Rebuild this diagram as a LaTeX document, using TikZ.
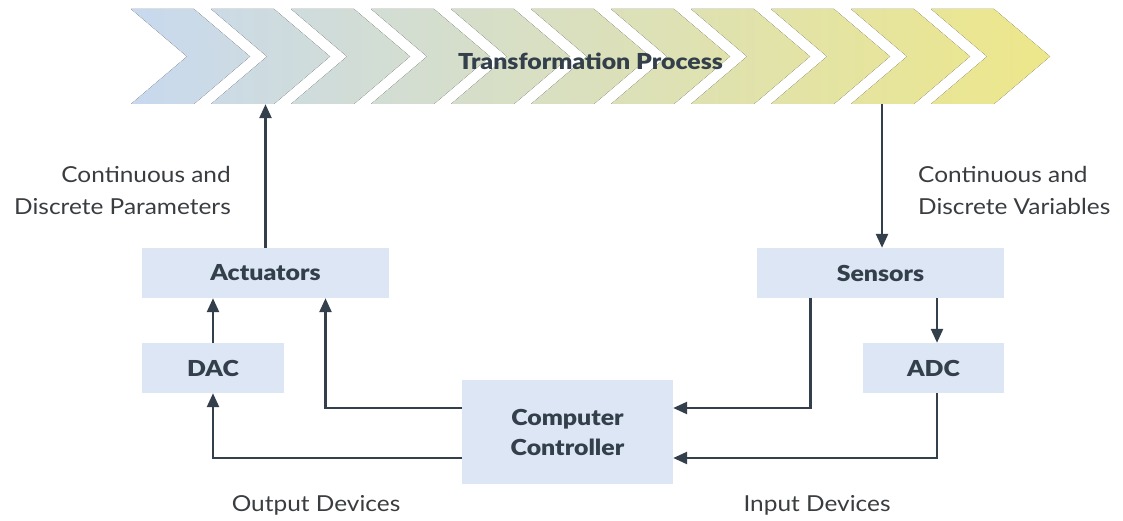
\documentclass[tikz,border=0pt]{standalone}
\usepackage{fontspec}
\setmainfont{Lato}[FakeStretch=1.11, BoldFont={Lato Black}, BoldFeatures={FakeStretch=1.13}]
\usetikzlibrary{arrows.meta}
\definecolor{boxfill}{HTML}{DCE6F5}
\definecolor{ink}{HTML}{333F4A}
\definecolor{labelc}{HTML}{3A3D40}
\definecolor{chevL}{HTML}{C8D9EF}
\definecolor{chevR}{HTML}{EDE78A}
\begin{document}
\begin{tikzpicture}[x=1pt,y=-1pt,
  box/.style={fill=boxfill, inner sep=0pt, text=ink, font=\bfseries\fontsize{22}{30}\selectfont, align=center},
  arr/.style={draw=ink, line width=2.5pt, -{Triangle[length=14pt,width=12pt]}},
  lbl/.style={text=labelc, font=\fontsize{22}{32}\selectfont, inner sep=0pt}]
\useasboundingbox (0,0) rectangle (1123,521);
% chevron band
\fill[left color=chevL, right color=chevR]
  \foreach \i in {0,...,10} {
    ({131+80*\i},9) -- ({194+80*\i},9) -- ({250+80*\i},56.5) -- ({194+80*\i},104)
    -- ({131+80*\i},104) -- ({187+80*\i},56.5) -- cycle
  };
\node[inner sep=0pt, minimum width=919pt, minimum height=95pt] (band) at (590.5,56.5) {};
\node[text=ink, font=\bfseries\fontsize{22}{24}\selectfont] (proc) at (590.5,61) {Transformation Process};
% boxes
\node[box, minimum width=247pt, minimum height=50pt] (act) at (265.5,273) {Actuators};
\node[box, minimum width=142pt, minimum height=50pt] (dac) at (213,368) {DAC};
\node[box, minimum width=211pt, minimum height=104pt] (ctrl) at (567.5,432) {Computer\\Controller};
\node[box, minimum width=247pt, minimum height=50pt] (sens) at (880.5,273) {Sensors};
\node[box, minimum width=141pt, minimum height=50pt] (adc) at (933.5,368) {ADC};
% labels
\node[lbl, anchor=east, align=right] (lpar) at (231,190) {Continuous and\\Discrete Parameters};
\node[lbl, anchor=west, align=left] (lvar) at (918,190) {Continuous and\\Discrete Variables};
\node[lbl] (lout) at (316,505) {Output Devices};
\node[lbl] (lin) at (817,505) {Input Devices};
% connectors
\draw[arr] (act.north) -- (act.north |- band.south);
\draw[arr] ([xshift=1.5pt]sens.north |- band.south) -- ([xshift=1.5pt]sens.north);
\draw[arr] (dac.north) -- (dac.north |- act.south);
\draw[arr] ([yshift=24pt]ctrl.west) -| ([xshift=60pt]act.south);
\draw[arr] ([yshift=-26pt]ctrl.west) -| (dac.south);
\draw[arr] ([xshift=3.5pt]adc.north |- sens.south) -- ([xshift=3.5pt]adc.north);
\draw[arr] ([xshift=-70pt]sens.south) |- ([yshift=24pt]ctrl.east);
\draw[arr] ([xshift=3.5pt]adc.south) |- ([yshift=-26pt]ctrl.east);
\end{tikzpicture}
\end{document}
